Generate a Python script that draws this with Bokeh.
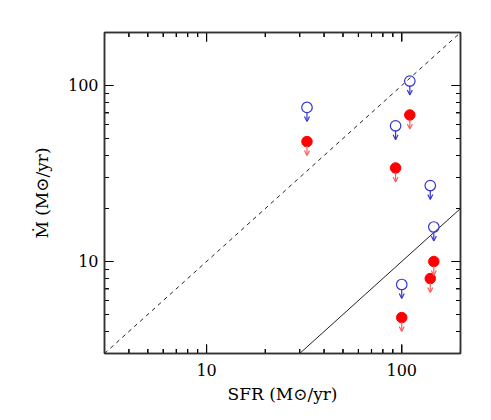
import math
from bokeh.plotting import figure
from bokeh.models import LogAxis, FixedTicker, LogTickFormatter, Arrow, OpenHead, ColumnDataSource, Range1d
from bokeh.embed import file_html
from bokeh.resources import INLINE

# data
sfr = [32.7, 110.0, 93.0, 140.0, 146.0, 100.0]
mdot_blue = [75.0, 106.0, 59.0, 27.0, 15.7, 7.4]
mdot_red = [48.0, 68.0, 34.0, 8.0, 10.0, 4.8]
line_x = [3.0, 200.0]
one_to_one = [3.0, 200.0]
ten_pct_x = [30.0, 200.0]
ten_pct_y = [3.0, 20.0]
major_ticks = [10, 100]
minor_ticks = [3, 4, 5, 6, 7, 8, 9, 20, 30, 40, 50, 60, 70, 80, 90, 200]
x_lo, x_hi = 3.0, 200.0
y_lo, y_hi = 3.0, 200.0

FONT = "DejaVu Serif"
FRAME_W, FRAME_H = 356, 321

p = figure(width=483, height=412, x_axis_type="log", y_axis_type="log",
           x_range=Range1d(x_lo, x_hi), y_range=Range1d(y_lo, y_hi),
           output_backend="svg", toolbar_location=None,
           min_border_left=104, min_border_right=23, min_border_top=32, min_border_bottom=59)
p.grid.visible = False
p.outline_line_color = "#333333"
p.outline_line_width = 1.5
p.background_fill_color = None
p.border_fill_color = "white"

def style_axis(ax, labels=True):
    ax.ticker = FixedTicker(ticks=major_ticks, minor_ticks=minor_ticks)
    ax.formatter = LogTickFormatter(min_exponent=4)
    ax.major_tick_in = 0
    ax.major_tick_out = 0
    ax.minor_tick_in = 0
    ax.minor_tick_out = 0
    ax.axis_line_color = "#333333"
    ax.axis_line_width = 1.5
    ax.major_label_text_font = FONT
    ax.major_label_text_font_size = "16px"
    ax.major_label_text_color = "black"
    ax.axis_label_text_font = FONT
    ax.axis_label_text_font_size = "17px"
    ax.axis_label_text_font_style = "normal"
    ax.axis_label_text_color = "black"
    if not labels:
        ax.major_label_text_alpha = 0
        ax.major_label_text_font_size = "0px"

xa = p.xaxis[0]
ya = p.yaxis[0]
style_axis(xa)
style_axis(ya)
xa.axis_label = "SFR (M⊙/yr)"
ya.axis_label = "Ṁ (M⊙/yr)"
xa.major_label_standoff = 10
xa.axis_label_standoff = 5
ya.major_label_standoff = 6
ya.axis_label_standoff = 13

top = LogAxis()
right = LogAxis()
style_axis(top, labels=False)
style_axis(right, labels=False)
p.add_layout(top, "above")
p.add_layout(right, "right")

# inward tick marks drawn as glyphs (constant pixel length on log scale)
xdec = FRAME_W / math.log10(x_hi / x_lo)
ydec = FRAME_H / math.log10(y_hi / y_lo)
def tick_lines(ticks, length):
    fx = 10 ** (length / xdec)
    fy = 10 ** (length / ydec)
    xs, ys = [], []
    for t in ticks:
        if x_lo <= t <= x_hi:
            xs += [[t, t], [t, t]]
            ys += [[y_lo, y_lo * fy], [y_hi, y_hi / fy]]
        if y_lo <= t <= y_hi:
            ys += [[t, t], [t, t]]
            xs += [[x_lo, x_lo * fx], [x_hi, x_hi / fx]]
    return xs, ys

for ticks, length in ((major_ticks, 9), (minor_ticks, 4.5)):
    xs, ys = tick_lines(ticks, length)
    p.multi_line(xs=xs, ys=ys, line_color="black", line_width=1.1)
    # same ticks as dash markers centred on the frame edge (inner half shows)
    vx = [t for t in ticks if x_lo <= t <= x_hi]
    p.scatter(vx + vx, [y_lo] * len(vx) + [y_hi] * len(vx), marker="dash",
              angle=math.pi / 2, size=2 * length, line_color="black", line_width=1.1)
    hy = [t for t in ticks if y_lo <= t <= y_hi]
    p.scatter([x_lo] * len(hy) + [x_hi] * len(hy), hy + hy, marker="dash",
              size=2 * length, line_color="black", line_width=1.1)

# reference lines
p.line(line_x, one_to_one, line_dash="4 4", line_color="#222222", line_width=1)
p.line(ten_pct_x, ten_pct_y, line_color="#222222", line_width=1)

# arrows (factor gives constant pixel length on log scale)
f_start = 10 ** (-4.5 / ydec)
f_end = 10 ** (-14.0 / ydec)
blue_src = ColumnDataSource(dict(x=sfr, y0=[v * f_start for v in mdot_blue], y1=[v * f_end for v in mdot_blue]))
red_src = ColumnDataSource(dict(x=sfr, y0=[v * f_start for v in mdot_red], y1=[v * f_end for v in mdot_red]))
p.add_layout(Arrow(source=blue_src, x_start="x", y_start="y0", x_end="x", y_end="y1",
                   line_color="#3535d0", line_width=1.2,
                   end=OpenHead(size=5, line_color="#3535d0", line_width=1.2)))
p.add_layout(Arrow(source=red_src, x_start="x", y_start="y0", x_end="x", y_end="y1",
                   line_color="#ff5a5a", line_width=1.2,
                   end=OpenHead(size=5, line_color="#ff5a5a", line_width=1.2)))

p.scatter(sfr, mdot_blue, marker="circle", size=10.5, fill_color=None, line_color="#3535d0", line_width=1.2)
p.scatter(sfr, mdot_red, marker="circle", size=10.5, fill_color="#ff0000", line_color="#ff0000")

open("out.html", "w").write(file_html(p, INLINE))
